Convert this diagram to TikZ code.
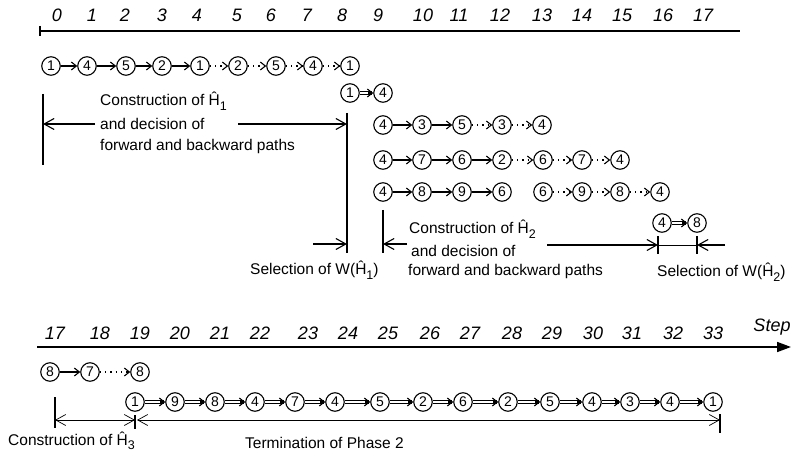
\documentclass[tikz,border=0pt]{standalone}
\usepackage{fontspec}
\setmainfont{Liberation Sans}
\usepackage{graphicx}
\usetikzlibrary{arrows.meta}
\newcommand\subx[1]{\raisebox{-0.55ex}{\fontsize{12.5}{12.5}\selectfont #1}}
\begin{document}
\begin{tikzpicture}[x=1pt,y=-1pt,
  cn/.style={circle,draw,line width=1.1pt,minimum size=18.5pt,inner sep=0pt,font=\fontsize{14}{14}\selectfont},
  sar/.style={line width=1.1pt,-{Straight Barb[length=5pt,width=8pt]}},
  dar/.style={sar,dash pattern=on 1.3pt off 4pt},
  dl/.style={line width=0.8pt},
  axis/.style={line width=1.7pt},
  br/.style={line width=1.1pt},
  bra/.style={br,-{Straight Barb[length=10pt,width=11pt]}},
  thn/.style={line width=0.7pt},
  lab/.style={anchor=west,inner sep=0pt,font=\fontsize{15.5}{18}\selectfont},
  stp/.style={font=\fontsize{18}{20}\selectfont\itshape,inner sep=0pt}
]
\useasboundingbox (0,0) rectangle (794,462);

% double arrow between two named nodes
\def\dbl#1#2{%
  \draw[dl] ([yshift=1.2pt]#1.east) -- ([yshift=1.2pt,xshift=-1.5pt]#2.west);
  \draw[dl] ([yshift=-1.2pt]#1.east) -- ([yshift=-1.2pt,xshift=-1.5pt]#2.west);
  \draw[sar] ([xshift=-5pt]#2.west) -- (#2.west);}

% ---------- top axis ----------
\coordinate (ta) at (40,31); \coordinate (tb) at (740,31);
\draw[axis] (ta) -- (tb);
\coordinate (tka) at (40,26); \coordinate (tkb) at (40,36);
\draw[axis] (tka) -- (tkb);
\foreach \x/\n in {57/0,92/1,125/2,162/3,197/4,237/5,271/6,307/7,342/8,378/9,423/10,459/11,500/12,542/13,582/14,622/15,663/16,703/17}
  \node[stp] (s\n) at (\x,15) {\n};

% ---------- rows ----------
\foreach \x/\l [count=\i] in {51/1,87/4,126/5,162/2,200/1,238/2,276/5,313/4,350/1}
  \node[cn] (a\i) at (\x,66) {\l};
\foreach \i/\j in {1/2,2/3,3/4,4/5} \draw[sar] (a\i) -- (a\j);
\foreach \i/\j in {5/6,6/7,7/8,8/9} \draw[dar] (a\i) -- (a\j);

\node[cn] (b1) at (350,93) {1};
\node[cn] (b2) at (383,93) {4};
\dbl{b1}{b2}

\foreach \x/\l [count=\i] in {383/4,422/3,462/5,502/3,542/4}
  \node[cn] (c\i) at (\x,125) {\l};
\foreach \i/\j in {1/2,2/3} \draw[sar] (c\i) -- (c\j);
\foreach \i/\j in {3/4,4/5} \draw[dar] (c\i) -- (c\j);

\foreach \x/\l [count=\i] in {383/4,422/7,462/6,502/2,543/6,582/7,620/4}
  \node[cn] (d\i) at (\x,160) {\l};
\foreach \i/\j in {1/2,2/3,3/4} \draw[sar] (d\i) -- (d\j);
\foreach \i/\j in {4/5,5/6,6/7} \draw[dar] (d\i) -- (d\j);

\foreach \x/\l [count=\i] in {383/4,422/8,462/9,502/6,543/6,582/9,620/8,660/4}
  \node[cn] (e\i) at (\x,192) {\l};
\foreach \i/\j in {1/2,2/3,3/4} \draw[sar] (e\i) -- (e\j);
\foreach \i/\j in {5/6,6/7,7/8} \draw[dar] (e\i) -- (e\j);

\node[cn] (f1) at (662,223) {4};
\node[cn] (f2) at (697,223) {8};
\dbl{f1}{f2}

% ---------- brackets, first part ----------
\coordinate (v1a) at (43,94);  \coordinate (v1b) at (43,165);
\draw[br] (v1a) -- (v1b);
\coordinate (v2a) at (347,113); \coordinate (v2b) at (347,253);
\draw[br] (v2a) -- (v2b);
\coordinate (v3a) at (383,210); \coordinate (v3b) at (383,253);
\draw[br] (v3a) -- (v3b);

\coordinate (p1) at (43,124); \coordinate (p2) at (95,124);
\coordinate (p3) at (238,124); \coordinate (p4) at (347,124);
\draw[bra] (p2) -- (p1);
\draw[bra] (p3) -- (p4);
\node[lab] (l1) at (100,101) {Construction of Ĥ\subx{1}};
\node[lab] (l2) at (100,124) {and decision of};
\node[lab] (l3) at (100,146) {forward and backward paths};

\coordinate (q1) at (313,244); \coordinate (q2) at (347,244);
\draw[bra] (q1) -- (q2);
\coordinate (q3) at (383,244); \coordinate (q4) at (407,244);
\draw[bra] (q4) -- (q3);
\coordinate (q5) at (547,245); \coordinate (q6) at (658,245);
\draw[bra] (q5) -- (q6);
\coordinate (k1a) at (658,236); \coordinate (k1b) at (658,254);
\draw[br] (k1a) -- (k1b);
\coordinate (q7) at (697,245);
\draw[thn] (q6) -- (q7);
\coordinate (k2a) at (697,236); \coordinate (k2b) at (697,254);
\draw[br] (k2a) -- (k2b);
\coordinate (q8) at (725,245);
\draw[bra] (q8) -- (q7);

\node[lab] (m1) at (409,229) {Construction of Ĥ\subx{2}};
\node[lab] (m2) at (411,251) {and decision of};
\node[lab] (m3) at (408,271) {forward and backward paths};
\node[lab] (w1) at (250,270) {Selection of W(Ĥ\subx{1})};
\node[lab] (w2) at (657,272) {Selection of W(Ĥ\subx{2})};

% ---------- bottom axis ----------
\coordinate (ba) at (37,347); \coordinate (bb) at (791,347);
\draw[axis,-{Triangle[length=14pt,width=10pt]}] (ba) -- (bb);
\foreach \x/\n in {55/17,100/18,140/19,180/20,220/21,260/22,308/23,348/24,388/25,430/26,470/27,512/28,552/29,593/30,632/31,673/32,713/33}
  \node[stp] (u\n) at (\x,333) {\n};
\node[stp] (step) at (772,327) {Step};

\foreach \x/\l [count=\i] in {50/8,90/7,140/8}
  \node[cn] (g\i) at (\x,372) {\l};
\draw[sar] (g1) -- (g2);
\draw[dar] (g2) -- (g3);

\foreach \x/\l [count=\i] in {135/1,175/9,215/8,255/4,295/7,335/4,380/5,423/2,463/6,508/2,550/5,592/4,630/3,670/4,713/1}
  \node[cn] (h\i) at (\x,402) {\l};
\foreach \i [evaluate=\i as \j using int(\i+1)] in {1,...,14}
  {\dbl{h\i}{h\j}}

\coordinate (x1a) at (55,397); \coordinate (x1b) at (55,428);
\draw[br] (x1a) -- (x1b);
\coordinate (r1) at (55,420); \coordinate (r2) at (135,420);
\draw[thn,{Straight Barb[length=10pt,width=11pt]}-{Straight Barb[length=10pt,width=11pt]}] (r1) -- (r2);
\coordinate (x2a) at (135,415); \coordinate (x2b) at (135,429);
\draw[br] (x2a) -- (x2b);
\coordinate (r3) at (137,420); \coordinate (r4) at (720,420);
\draw[thn,{Straight Barb[length=10pt,width=11pt]}-{Straight Barb[length=10pt,width=11pt]}] (r3) -- (r4);
\coordinate (x3a) at (720,414); \coordinate (x3b) at (720,433);
\draw[br] (x3a) -- (x3b);

\node[lab] (n1) at (8,441) {Construction of Ĥ\subx{3}};
\node[lab] (n2) at (245,443) {Termination of Phase 2};
\end{tikzpicture}
\end{document}
